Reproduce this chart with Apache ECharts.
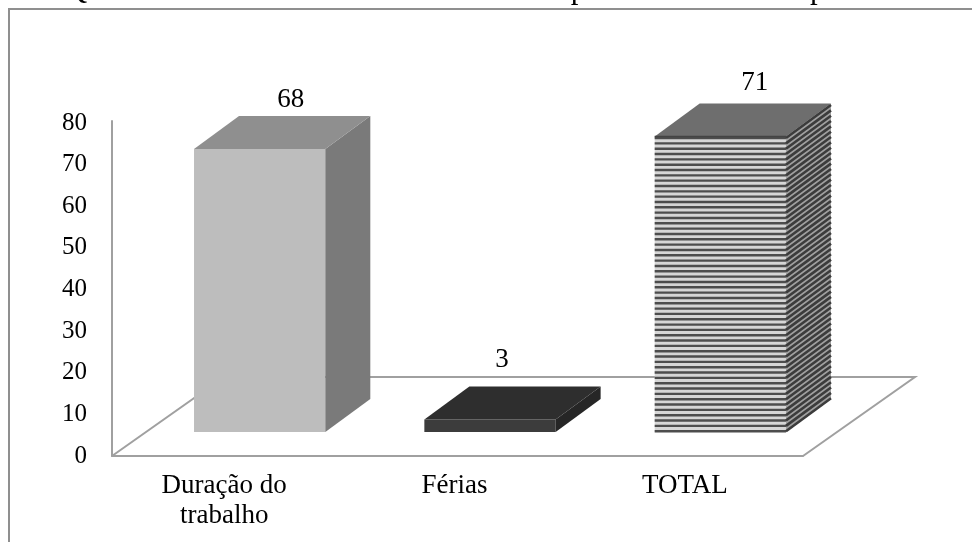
<!DOCTYPE html>
<html>
<head>
<meta charset="utf-8">
<style>html,body{margin:0;padding:0;background:#fff}#chart{width:972px;height:542px}</style>
<script src="https://cdn.jsdelivr.net/npm/echarts@6/dist/echarts.min.js"></script>
</head>
<body>
<div id="chart"></div>
<script>
// Values and labels
const captionText = '1: Quantidade de atividades do Tribunal Superior do Trabalho por ano to';
const categories = ['Duração do\ntrabalho', 'Férias', 'TOTAL'];
const values = [68, 3, 71];
const yTicks = [0, 10, 20, 30, 40, 50, 60, 70, 80];

// Box geometry in pixels
const DEPTH_X = 45, DEPTH_Y = 33;      // receding edge of each box
const BOX_LIFT = 24;                   // box front sits this far above the floor's front edge
const BOX_SHIFT = 32.5;                // box centre relative to its category band
const BOX_RATIO = 0.57;                // front width as a share of the band
const FLOOR_X = 112, FLOOR_Y = 79;     // receding edge of the floor
const STRIPE_STEP = 5.33;

const LABEL_FONT = '27px "Liberation Serif", serif';
const AXIS_GREY = '#a0a0a0';

// Face colours per box, with optional hatching on the third
const faces = [
  { front: '#bdbdbd', top: '#8f8f8f', side: '#7a7a7a' },
  { front: '#3c3c3c', top: '#2e2e2e', side: '#262626' },
  { front: '#d6d6d6', top: '#6e6e6e', side: '#a0a0a0', hatch: true }
];
// Value label placement: along x from the front centre, above the back top edge
const labelNudges = [[31, 16], [12, 27], [34.5, 21]];

function poly(points, fill) {
  return { type: 'polygon', shape: { points }, style: { fill, stroke: null } };
}
function seg(x1, y1, x2, y2, stroke, lineWidth) {
  return { type: 'line', shape: { x1, y1, x2, y2 }, style: { stroke, lineWidth, fill: null } };
}

function renderBox(params, api) {
  const i = api.value(0);
  const v = api.value(1);
  const zero = api.coord([i, 0]);
  const tip = api.coord([i, v]);
  const w = api.size([1, 0])[0] * BOX_RATIO;
  const cx = zero[0] + BOX_SHIFT;
  const x0 = cx - w / 2, x1 = cx + w / 2;
  const yb = zero[1] - BOX_LIFT;
  const yt = yb - (zero[1] - tip[1]);
  const c = faces[i];
  const children = [
    poly([[x0, yt], [x1, yt], [x1, yb], [x0, yb]], c.front),
    poly([[x1, yt], [x1 + DEPTH_X, yt - DEPTH_Y], [x1 + DEPTH_X, yb - DEPTH_Y], [x1, yb]], c.side),
    poly([[x0, yt], [x0 + DEPTH_X, yt - DEPTH_Y], [x1 + DEPTH_X, yt - DEPTH_Y], [x1, yt]], c.top)
  ];
  if (c.hatch) {
    for (let y = yt + 1.5; y < yb; y += STRIPE_STEP) {
      children.push(seg(x0, y, x1, y, '#4d4d4d', 2.4));
      children.push(seg(x1, y, x1 + DEPTH_X, y - DEPTH_Y, '#3c3c3c', 2.6));
    }
    children.push(seg(x0, yt, x1, yt, '#444444', 1.5));
  }
  const nudge = labelNudges[i];
  children.push({
    type: 'text',
    style: {
      text: String(v), x: cx + nudge[0], y: yt - DEPTH_Y - nudge[1],
      font: LABEL_FONT, fill: '#000', align: 'center', verticalAlign: 'middle'
    }
  });
  return { type: 'group', children };
}

function renderFloor(params) {
  const g = params.coordSys;
  const bottom = g.y + g.height, right = g.x + g.width;
  return {
    type: 'polyline',
    shape: { points: [
      [g.x, bottom],
      [g.x + FLOOR_X, bottom - FLOOR_Y],
      [right + FLOOR_X, bottom - FLOOR_Y],
      [right, bottom]
    ] },
    style: { stroke: AXIS_GREY, lineWidth: 2, fill: null }
  };
}

const chart = echarts.init(document.getElementById('chart'), null, { renderer: 'canvas' });
chart.setOption({
  animation: false,
  backgroundColor: '#fff',
  grid: { left: 112, top: 121, width: 691, height: 335, containLabel: false },
  graphic: [
    {
      type: 'rect', z: 0,
      shape: { x: 9, y: 9, width: 1100, height: 700 },
      style: { fill: '#fff', stroke: '#8f8f8f', lineWidth: 2 }
    },
    {
      type: 'text', z: 1, x: 33, y: 5,
      style: {
        text: captionText, font: '31px "Liberation Serif", serif',
        fill: '#000', verticalAlign: 'bottom'
      }
    }
  ],
  xAxis: {
    type: 'category',
    data: categories,
    axisLine: { lineStyle: { color: AXIS_GREY, width: 2 } },
    axisTick: { show: false },
    axisLabel: {
      interval: 0, margin: 15, color: '#000', lineHeight: 30,
      fontFamily: 'Liberation Serif', fontSize: 27, padding: [0, 6, 0, 0]
    }
  },
  yAxis: {
    type: 'value',
    min: yTicks[0], max: 80.5, interval: 10,
    splitLine: { show: false },
    axisTick: { show: false },
    axisLine: { show: true, lineStyle: { color: AXIS_GREY, width: 2 } },
    axisLabel: {
      margin: 25, color: '#000', showMaxLabel: false,
      fontFamily: 'Liberation Serif', fontSize: 25
    }
  },
  series: [
    { type: 'custom', z: 2, renderItem: renderFloor, data: [0], silent: true },
    {
      type: 'custom', z: 3, renderItem: renderBox, silent: true,
      encode: { x: 0, y: 1 },
      data: values.map((v, i) => [i, v])
    }
  ]
});
</script>
</body>
</html>
